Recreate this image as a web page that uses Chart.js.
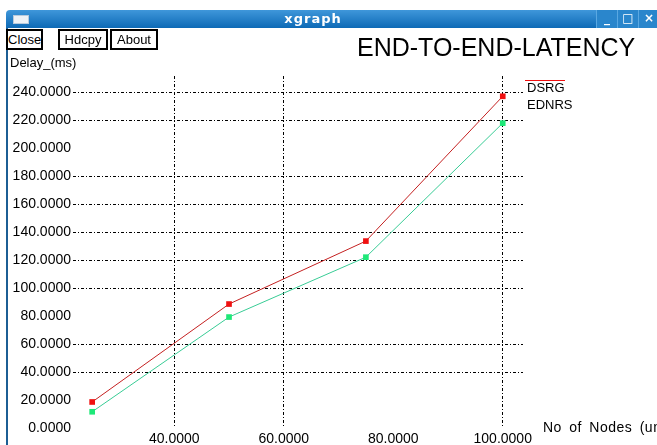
<!DOCTYPE html>
<html>
<head>
<meta charset="utf-8">
<script src="https://cdn.jsdelivr.net/npm/chart.js@4.4.0/dist/chart.umd.min.js"></script>
<style>
  body { margin: 0; width: 657px; height: 445px; overflow: hidden; background: #fff; position: relative; font-family: "Liberation Sans", Arial, sans-serif; }
  #grafico { position: absolute; left: 0; top: 0; }
  .abs { position: absolute; white-space: nowrap; }
  #barra { left: 6px; top: 10px; width: 660px; height: 18px; background: linear-gradient(#3f97da, #0d6ab6); border-top-left-radius: 4px; }
  #icone { left: 13px; top: 15px; width: 14px; height: 7px; background: #eef2f6; border: 1px solid #b8cadc; }
  #nomeJanela { left: 270px; top: 11px; width: 86px; text-align: center; color: #fff; font: bold 13px "DejaVu Sans", sans-serif; letter-spacing: 1px; line-height: 16px; }
  .botaoJanela { top: 10px; width: 20px; height: 18px; background: #2a86cc; border-left: 1px solid #5aa8e2; color: #fff; font: bold 12px "DejaVu Sans", sans-serif; text-align: center; line-height: 17px; }
  #bordaEsq { left: 6px; top: 28px; width: 2px; height: 420px; background: #1c5e94; }
  .botao { top: 29px; height: 21px; box-sizing: border-box; border: 2px solid #000; font-size: 13px; line-height: 17px; text-align: center; background: #fff; }
  #titulo { left: 357px; top: 35px; font-size: 25px; line-height: 25px; color: #000; }
  #tituloY { left: 10px; top: 56px; font-size: 13px; line-height: 13px; }
  #tituloX { left: 543px; top: 420px; font-size: 14px; line-height: 14px; letter-spacing: 0.5px; word-spacing: 3px; }
</style>
</head>
<body>
<canvas id="grafico" width="657" height="445"></canvas>
<div class="abs" id="barra"></div>
<div class="abs" id="icone"></div>
<div class="abs" id="nomeJanela">xgraph</div>
<div class="abs botaoJanela" style="left:596px">_</div>
<div class="abs botaoJanela" style="left:617px">&#9633;</div>
<div class="abs botaoJanela" style="left:638px">&#215;</div>
<div class="abs" id="bordaEsq"></div>
<div class="abs botao" style="left:6px;width:37px">Close</div>
<div class="abs botao" style="left:58px;width:50px">Hdcpy</div>
<div class="abs botao" style="left:110px;width:48px">About</div>
<div class="abs" id="titulo">END-TO-END-LATENCY</div>
<div class="abs" id="tituloY">Delay_(ms)</div>
<div class="abs" id="tituloX">No of Nodes (units)</div>
<script>
// Dados
const nodes = [25, 50, 75, 100];
const seriesLabels = ['DSRG', 'EDNRS'];
const dsrgDelay = [18.6, 88.6, 133.6, 237.1];
const ednrsDelay = [11.6, 79.3, 122.1, 217.9];
const xTicks = [40, 60, 80, 100];
const yTicks = [0, 20, 40, 60, 80, 100, 120, 140, 160, 180, 200, 220, 240];

// linhas de grade que não aparecem na figura original
const gradeOcultaX = [80];
const gradeOcultaY = [0, 20, 80, 200];

const pontos = serie => nodes.map((x, i) => ({ x: x, y: serie[i] }));

// Legenda no estilo do xgraph (texto à direita da área do gráfico)
const legendaXgraph = {
  id: 'legendaXgraph',
  afterDraw(chart) {
    const c = chart.ctx;
    const area = chart.chartArea;
    c.save();
    c.font = '13px "Liberation Sans", Arial, sans-serif';
    c.textBaseline = 'middle';
    chart.data.datasets.forEach((ds, i) => {
      const y = area.top + 4 + i * 17;
      if (i === 0) {
        c.strokeStyle = ds.pointBackgroundColor;
        c.lineWidth = 1;
        c.beginPath();
        c.moveTo(area.right + 2, y + 0.5);
        c.lineTo(area.right + 42, y + 0.5);
        c.stroke();
      }
      c.fillStyle = '#000';
      c.fillText(ds.label, area.right + 4, y + 8);
    });
    c.restore();
  }
};

const ctx = document.getElementById('grafico').getContext('2d');
const grafico = new Chart(ctx, {
  type: 'line',
  data: {
    datasets: [
      {
        label: seriesLabels[0],
        data: pontos(dsrgDelay),
        borderColor: '#c42020',
        borderWidth: 1,
        pointStyle: 'rect',
        pointRadius: 4,
        pointBorderWidth: 0,
        pointBackgroundColor: '#f01010'
      },
      {
        label: seriesLabels[1],
        data: pontos(ednrsDelay),
        borderColor: '#38cc95',
        borderWidth: 1,
        pointStyle: 'rect',
        pointRadius: 4,
        pointBorderWidth: 0,
        pointBackgroundColor: '#1ee878'
      }
    ]
  },
  options: {
    responsive: false,
    animation: false,
    layout: { padding: { left: 0, top: 76, right: 134, bottom: 0 } },
    scales: {
      x: {
        type: 'linear',
        min: 21.5,
        max: 103.7,
        afterFit: s => { s.height = 17; },
        afterBuildTicks: s => { s.ticks = xTicks.map(v => ({ value: v })); },
        border: { display: false, dash: [3, 2, 1, 2] },
        grid: {
          drawTicks: false,
          lineWidth: 1,
          color: c => gradeOcultaX.includes(c.tick && c.tick.value) ? 'rgba(0,0,0,0)' : '#000'
        },
        ticks: {
          padding: 3,
          color: '#000',
          maxRotation: 0,
          font: { family: '"Liberation Sans", Arial, sans-serif', size: 14 },
          callback: v => Number(v).toFixed(4)
        }
      },
      y: {
        min: 0,
        max: 251.6,
        afterFit: s => { s.width = 73; },
        afterBuildTicks: s => { s.ticks = yTicks.map(v => ({ value: v })); },
        border: { display: false, dash: [3, 2, 1, 2] },
        grid: {
          drawTicks: false,
          lineWidth: 1,
          color: c => gradeOcultaY.includes(c.tick && c.tick.value) ? 'rgba(0,0,0,0)' : '#000'
        },
        ticks: {
          padding: 2,
          color: '#000',
          font: { family: '"Liberation Sans", Arial, sans-serif', size: 14 },
          callback: v => Number(v).toFixed(4)
        }
      }
    },
    plugins: {
      legend: { display: false },
      tooltip: { enabled: false }
    }
  },
  plugins: [legendaXgraph]
});
</script>
</body>
</html>
